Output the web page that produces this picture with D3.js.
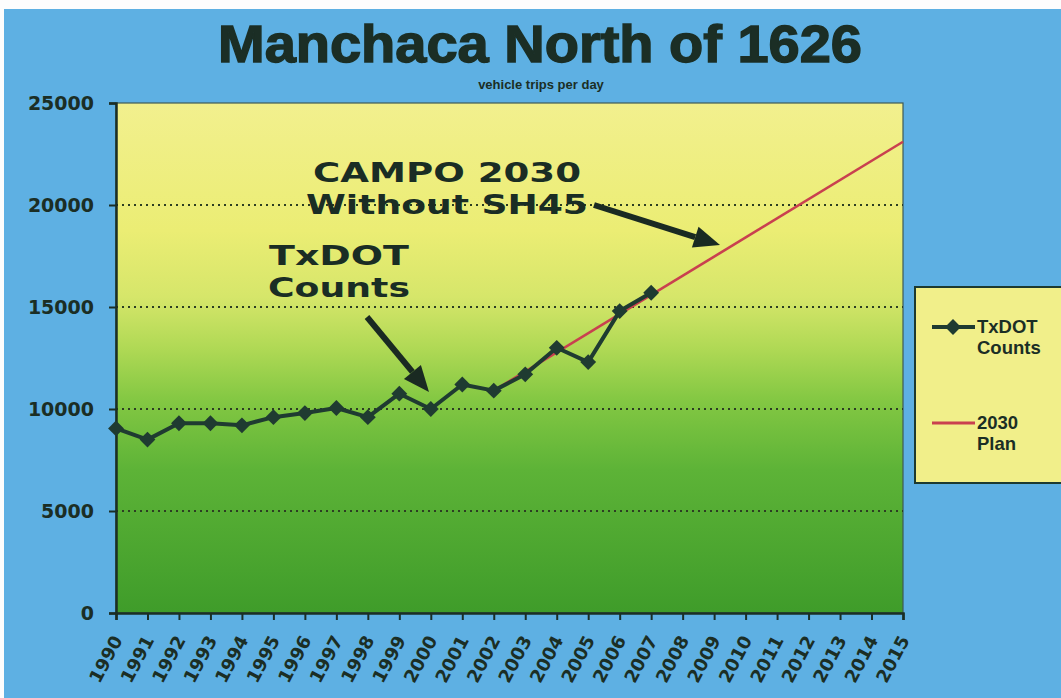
<!DOCTYPE html>
<html>
<head>
<meta charset="utf-8">
<script src="https://cdn.jsdelivr.net/npm/d3@7"></script>
<style>
  body { margin: 0; background: #fff; }
  svg { display: block; }
</style>
</head>
<body>
<div id="chart"></div>
<script>
// chart data
const years = d3.range(1990, 2016);
const countYears = [1990, 1991, 1992, 1993, 1994, 1995, 1996, 1997, 1998, 1999, 2000, 2001, 2002, 2003, 2004, 2005, 2006, 2007];
const countValues = [9050, 8500, 9300, 9300, 9200, 9600, 9800, 10050, 9600, 10750, 10000, 11200, 10900, 11700, 13000, 12300, 14800, 15700];
const planYears = [2002, 2015];
const planValues = [10900, 23100];
const yTicks = [0, 5000, 10000, 15000, 20000, 25000];
const seriesNames = [["TxDOT", "Counts"], ["2030", "Plan"]];

const W = 1061, H = 698;
const ink = "#1b2e25";
const sans = "'DejaVu Sans', sans-serif";

const svg = d3.select("#chart").append("svg")
    .attr("width", W)
    .attr("height", H);

// background (scan edge + blue slide)
svg.append("rect").attr("width", W).attr("height", H).attr("fill", "#fdfdfd");
svg.append("rect")
    .attr("x", 4).attr("y", 9)
    .attr("width", W - 4).attr("height", H - 9)
    .attr("fill", "#5eb0e3");

const x = d3.scaleLinear().domain([1990, 2015]).range([116, 903]);
const y = d3.scaleLinear().domain([0, 25000]).range([613, 103]);

// plot area gradient
const defs = svg.append("defs");
const grad = defs.append("linearGradient")
    .attr("id", "plotBg")
    .attr("x1", 0).attr("y1", 0).attr("x2", 0).attr("y2", 1);
[
    [0, "#f2f08e"], [0.25, "#ebed74"], [0.38, "#d6e66a"], [0.48, "#b0d955"],
    [0.58, "#84c843"], [0.72, "#5db337"], [1, "#3f9c2a"]
].forEach(s => grad.append("stop").attr("offset", s[0]).attr("stop-color", s[1]));

svg.append("rect")
    .attr("x", x(1990)).attr("y", y(25000))
    .attr("width", x(2015) - x(1990))
    .attr("height", y(0) - y(25000))
    .attr("fill", "url(#plotBg)")
    .attr("stroke", "#3f5a55")
    .attr("stroke-width", 1.2);

// gridlines
svg.append("g")
    .selectAll("line")
    .data(yTicks.filter(d => d > 0 && d < 25000))
    .enter().append("line")
    .attr("x1", x(1990)).attr("x2", x(2015))
    .attr("y1", d => y(d)).attr("y2", d => y(d))
    .attr("stroke", "#2c3d22")
    .attr("stroke-width", 2.2)
    .attr("stroke-dasharray", "2,4");

// axes
const yAxis = d3.axisLeft(y).tickValues(yTicks).tickSize(7).tickPadding(15).tickFormat(d3.format("d"));
const gy = svg.append("g").attr("transform", `translate(${x(1990)},0)`).call(yAxis);
gy.select(".domain").attr("stroke", ink).attr("stroke-width", 2.5);
gy.selectAll(".tick line").attr("stroke", ink).attr("stroke-width", 2);
gy.selectAll("text")
    .attr("font-family", sans).attr("font-weight", "bold")
    .attr("font-size", 19).attr("fill", ink);

const xAxis = d3.axisBottom(x).tickValues(years).tickSize(7).tickFormat(d3.format("d"));
const gx = svg.append("g").attr("transform", `translate(0,${y(0)})`).call(xAxis);
gx.select(".domain").attr("stroke", ink).attr("stroke-width", 2.5);
gx.selectAll(".tick line").attr("stroke", ink).attr("stroke-width", 2);
gx.selectAll("text")
    .attr("font-family", sans).attr("font-weight", "bold")
    .attr("font-size", 18).attr("fill", ink)
    .attr("text-anchor", "end")
    .attr("dy", "0.35em")
    .attr("transform", "translate(1,24) rotate(-62)")
    .attr("x", 0).attr("y", 0);

// series
const line = d3.line().x(d => x(d[0])).y(d => y(d[1]));
const planData = planYears.map((yr, i) => [yr, planValues[i]]);
const countData = countYears.map((yr, i) => [yr, countValues[i]]);

svg.append("path")
    .datum(planData)
    .attr("d", line)
    .attr("fill", "none")
    .attr("stroke", "#c9404f")
    .attr("stroke-width", 2.6);

svg.append("path")
    .datum(countData)
    .attr("d", line)
    .attr("fill", "none")
    .attr("stroke", "#1f3b31")
    .attr("stroke-width", 4)
    .attr("stroke-linejoin", "round");

const diamond = d3.symbol().type(d3.symbolDiamond2).size(160);
svg.append("g")
    .selectAll("path")
    .data(countData)
    .enter().append("path")
    .attr("d", diamond)
    .attr("transform", d => `translate(${x(d[0])},${y(d[1])})`)
    .attr("fill", "#1f3b31");

// title
svg.append("text")
    .attr("x", 540).attr("y", 62)
    .attr("text-anchor", "middle")
    .attr("font-family", "'Liberation Sans', Arial, sans-serif")
    .attr("font-weight", "bold")
    .attr("font-size", 51)
    .attr("textLength", 644)
    .attr("lengthAdjust", "spacingAndGlyphs")
    .attr("fill", ink)
    .attr("stroke", ink)
    .attr("stroke-width", 1.4)
    .text("Manchaca North of 1626");

svg.append("text")
    .attr("x", 541).attr("y", 89)
    .attr("text-anchor", "middle")
    .attr("font-family", "'Liberation Sans', Arial, sans-serif")
    .attr("font-weight", "bold")
    .attr("font-size", 13)
    .attr("fill", ink)
    .text("vehicle trips per day");

// annotations
function note(lines, cx, ys, widths) {
    lines.forEach((t, i) => {
        svg.append("text")
            .attr("x", cx).attr("y", ys[i])
            .attr("text-anchor", "middle")
            .attr("font-family", sans)
            .attr("font-weight", "bold")
            .attr("font-size", 27)
            .attr("textLength", widths[i])
            .attr("lengthAdjust", "spacingAndGlyphs")
            .attr("fill", "#1a2d24")
            .text(t);
    });
}
note(["CAMPO 2030", "Without SH45"], 447, [182, 214], [268, 282]);
note(["TxDOT", "Counts"], 339, [265, 297], [140, 142]);

function arrow(x1, y1, x2, y2) {
    const a = Math.atan2(y2 - y1, x2 - x1);
    const len = 26, half = 11;
    const bx = x2 - len * Math.cos(a), by = y2 - len * Math.sin(a);
    svg.append("line")
        .attr("x1", x1).attr("y1", y1).attr("x2", bx).attr("y2", by)
        .attr("stroke", "#1a2a22").attr("stroke-width", 6);
    const pts = [
        [x2, y2],
        [bx + half * Math.sin(a), by - half * Math.cos(a)],
        [bx - half * Math.sin(a), by + half * Math.cos(a)]
    ];
    svg.append("polygon")
        .attr("points", pts.map(p => p.join(",")).join(" "))
        .attr("fill", "#1a2a22");
}
arrow(367, 317, 429, 392);
arrow(594, 205, 720, 245);

// legend
const lg = svg.append("g");
lg.append("rect")
    .attr("x", 915).attr("y", 287)
    .attr("width", 160).attr("height", 196)
    .attr("fill", "#f1ef8a")
    .attr("stroke", "#1d3a30")
    .attr("stroke-width", 2);

const legendRows = [
    { y: 327, color: "#1f3b31", width: 4, marker: true },
    { y: 423, color: "#c9404f", width: 3, marker: false }
];
legendRows.forEach((r, i) => {
    lg.append("line")
        .attr("x1", 932).attr("x2", 975)
        .attr("y1", r.y).attr("y2", r.y)
        .attr("stroke", r.color).attr("stroke-width", r.width);
    if (r.marker) {
        lg.append("path")
            .attr("d", diamond)
            .attr("transform", `translate(953,${r.y})`)
            .attr("fill", r.color);
    }
    seriesNames[i].forEach((t, j) => {
        lg.append("text")
            .attr("x", 977).attr("y", r.y + 6 + j * 21)
            .attr("font-family", "'Liberation Sans', Arial, sans-serif")
            .attr("font-weight", "bold")
            .attr("font-size", 18.5)
            .attr("fill", ink)
            .text(t);
    });
});
</script>
</body>
</html>
